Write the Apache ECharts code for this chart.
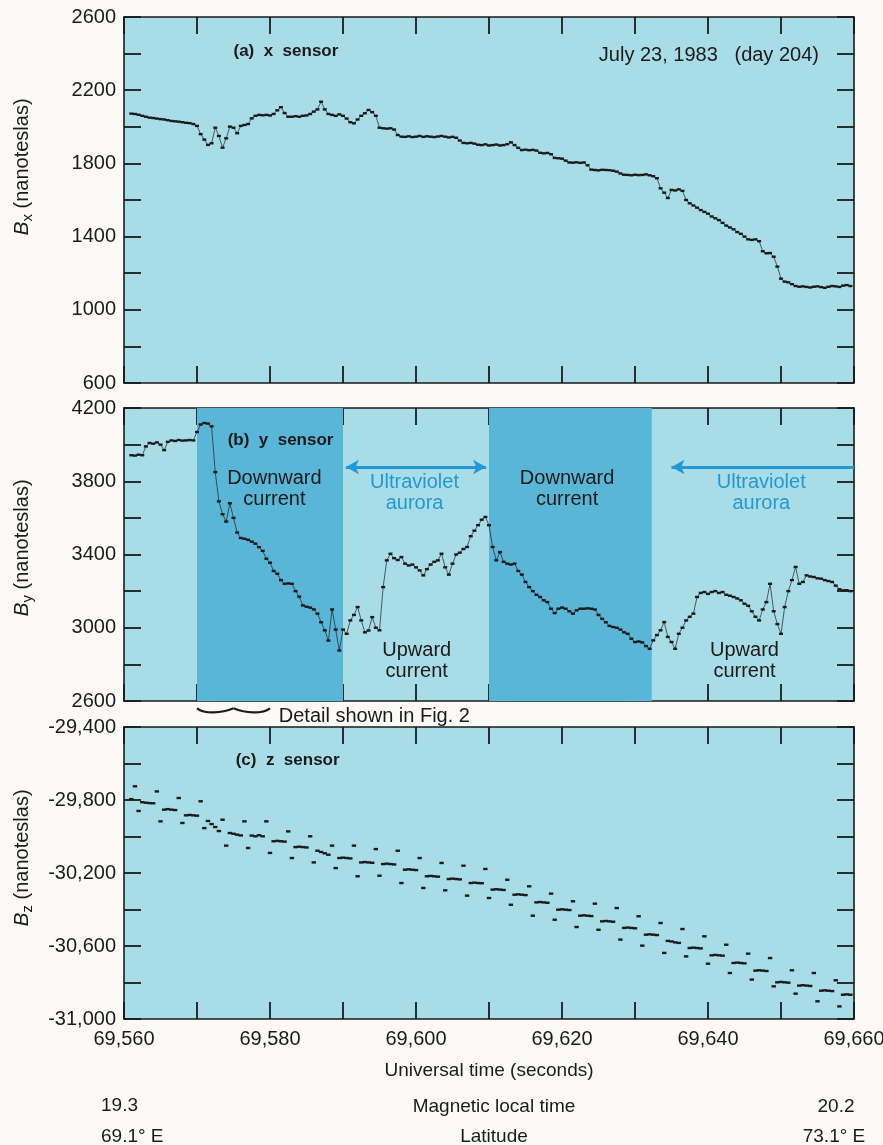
<!DOCTYPE html>
<html>
<head>
<meta charset="utf-8">
<script src="https://cdn.jsdelivr.net/npm/echarts@6/dist/echarts.min.js"></script>
<style>
  html, body { margin: 0; padding: 0; background: #fbfaf7; }
  #chart { width: 883px; height: 1145px; }
</style>
</head>
<body>
<div id="chart"></div>
<script>
// ---------------- data ----------------
// samples every 0.5 s starting at 69,561 s (universal time)
const TIME_START = 69561;
const TIME_STEP = 0.5;
const timeRange = [69560, 69660];

// (a) x sensor, nanoteslas
const bxValues = [
  2072,2070,2066,2060,2055,2050,2048,2045,2042,2040,
  2036,2032,2030,2028,2025,2022,2020,2015,2005,1960,
  1930,1901,1910,1995,1950,1886,1937,2001,1995,1965,
  2005,2010,2015,2046,2060,2065,2063,2065,2062,2070,
  2090,2107,2075,2055,2055,2058,2055,2060,2062,2070,
  2083,2095,2137,2095,2070,2065,2060,2068,2060,2045,
  2025,2019,2040,2060,2074,2092,2080,2060,1995,1992,
  1990,1992,1985,1955,1946,1945,1948,1944,1946,1950,
  1945,1948,1946,1944,1947,1950,1946,1942,1945,1940,
  1925,1912,1910,1912,1908,1902,1900,1904,1898,1900,
  1903,1898,1900,1905,1915,1900,1885,1873,1875,1872,
  1874,1870,1858,1855,1857,1850,1830,1828,1826,1815,
  1805,1804,1806,1803,1805,1790,1766,1764,1762,1765,
  1764,1763,1760,1755,1745,1738,1737,1735,1738,1736,
  1737,1740,1735,1730,1719,1664,1640,1611,1655,1652,
  1658,1650,1600,1582,1570,1558,1545,1535,1525,1510,
  1500,1490,1475,1460,1450,1440,1425,1415,1400,1385,
  1382,1385,1375,1320,1309,1310,1290,1236,1170,1154,
  1150,1140,1130,1126,1128,1125,1122,1126,1128,1124,
  1120,1126,1130,1128,1125,1132,1135,1130
];

// (b) y sensor, nanoteslas
const byValues = [
  3942,3940,3945,3942,3990,4009,4005,4012,4000,3970,
  4015,4023,4020,4025,4022,4023,4025,4023,4069,4110,
  4118,4115,4100,3850,3690,3620,3580,3680,3600,3520,
  3490,3486,3480,3470,3459,3440,3420,3377,3355,3310,
  3295,3260,3240,3242,3240,3200,3170,3122,3115,3110,
  3100,3077,3030,2986,2930,3100,2990,2876,2990,2967,
  3040,3070,3113,3040,2975,2985,3058,3000,2986,3222,
  3368,3404,3380,3370,3386,3350,3340,3345,3330,3313,
  3286,3320,3345,3360,3368,3404,3330,3290,3350,3400,
  3410,3430,3441,3500,3530,3560,3590,3605,3560,3441,
  3368,3413,3360,3350,3345,3350,3310,3290,3250,3222,
  3200,3180,3168,3150,3140,3104,3080,3104,3110,3104,
  3090,3077,3095,3104,3104,3106,3104,3100,3070,3049,
  3030,3010,3004,3000,2990,2975,2967,2940,2922,2925,
  2920,2900,2885,2931,2960,2986,3031,2950,2922,2885,
  2967,3000,3040,3060,3077,3168,3190,3195,3185,3195,
  3200,3190,3195,3180,3175,3168,3160,3150,3131,3120,
  3090,3060,3040,3100,3140,3240,3090,3020,2967,3113,
  3200,3260,3332,3240,3250,3286,3280,3277,3270,3268,
  3260,3255,3250,3230,3210,3204,3205,3200
];

// (c) z sensor, nanoteslas
const bzValues = [
  -29795,-29725,-29860,-29812,-29815,-29817,-29818,-29753,-29917,-29853,
  -29850,-29853,-29855,-29789,-29926,-29884,-29882,-29884,-29886,-29807,
  -29954,-29915,-29932,-29948,-29970,-29908,-30050,-29981,-29985,-29990,
  -29994,-29917,-30063,-29995,-29999,-29993,-29999,-29917,-30090,-30026,
  -30024,-30026,-30028,-29972,-30118,-30058,-30056,-30058,-30060,-29999,
  -30142,-30078,-30085,-30092,-30100,-30050,-30173,-30118,-30116,-30118,
  -30120,-30050,-30218,-30142,-30140,-30142,-30144,-30069,-30215,-30151,
  -30149,-30151,-30153,-30078,-30255,-30182,-30180,-30182,-30184,-30118,
  -30282,-30218,-30216,-30218,-30220,-30145,-30295,-30233,-30231,-30233,
  -30235,-30160,-30324,-30255,-30253,-30255,-30256,-30178,-30337,-30291,
  -30289,-30291,-30293,-30237,-30374,-30319,-30317,-30319,-30321,-30273,
  -30434,-30361,-30359,-30361,-30363,-30313,-30456,-30401,-30399,-30401,
  -30403,-30355,-30496,-30434,-30432,-30434,-30436,-30368,-30511,-30465,
  -30463,-30465,-30467,-30392,-30565,-30501,-30499,-30501,-30503,-30437,
  -30598,-30538,-30536,-30538,-30540,-30474,-30638,-30572,-30575,-30580,
  -30583,-30507,-30657,-30611,-30609,-30611,-30613,-30547,-30697,-30651,
  -30649,-30651,-30653,-30593,-30748,-30693,-30691,-30693,-30695,-30642,
  -30784,-30735,-30733,-30735,-30737,-30666,-30821,-30799,-30797,-30799,
  -30801,-30733,-30861,-30817,-30815,-30817,-30819,-30748,-30903,-30845,
  -30843,-30845,-30847,-30788,-30931,-30867,-30865,-30867
];

// axis ranges (nanoteslas)
const bxRange = [600, 2600];
const byRange = [2600, 4200];
const bzRange = [-31000, -29400];

// current regions in panel (b), seconds
const downwardRegions = [[69570, 69590], [69610, 69632.3]];
// ultraviolet aurora arrows, seconds
const auroraArrows = [[69590.4, 69609.6, 'both'], [69635, 69660, 'left']];
const auroraArrowLevel = 3878;

// bottom annotations
const mltLabels = ['19.3', 'Magnetic local time', '20.2'];
const latLabels = ['69.1\u00b0 E', 'Latitude', '73.1\u00b0 E'];

// ---------------- chart ----------------
const FONT = '"Liberation Sans", Arial, Helvetica, sans-serif';
const INK = '#1b1b1b';
const BLUE = '#2398d6';
const LIGHT = '#a8dce6';
const DARK = '#5ab6d7';

const toPairs = vals => vals.map((v, i) => [TIME_START + i * TIME_STEP, v]);
const fmtNum = v => {
  const a = Math.abs(v);
  const s = a >= 10000 ? a.toString().replace(/\B(?=(\d{3})+(?!\d))/g, ',') : a.toString();
  return (v < 0 ? '-' : '') + s;
};

const grids = [
  { left: 124, right: 29, top: 17, height: 366 },
  { left: 124, right: 29, top: 408, height: 293 },
  { left: 124, right: 29, top: 727, height: 292 }
].map(g => Object.assign(g, {
  show: true, backgroundColor: LIGHT, borderWidth: 0,
  containLabel: false, outerBoundsMode: 'none'
}));

const axisLine = { show: true, onZero: false, lineStyle: { color: INK, width: 1.6 } };
const axisTick = { show: true, inside: true, length: 17, lineStyle: { color: INK, width: 1.8 } };

const xAxes = [];
for (let i = 0; i < 3; i++) {
  xAxes.push({
    type: 'value', gridIndex: i, position: 'bottom',
    min: timeRange[0], max: timeRange[1], interval: 10,
    axisLine, axisTick, splitLine: { show: false },
    axisLabel: i === 2 ? {
      show: true, color: INK, fontFamily: FONT, fontSize: 20, margin: 10,
      formatter: v => (v % 20 === 0 ? fmtNum(v) : '')
    } : { show: false },
    name: i === 2 ? 'Universal time (seconds)' : '',
    nameLocation: 'middle', nameGap: 42,
    nameTextStyle: { color: INK, fontFamily: FONT, fontSize: 19 }
  });
}
for (let i = 0; i < 3; i++) {
  xAxes.push({
    type: 'value', gridIndex: i, position: 'top',
    min: timeRange[0], max: timeRange[1], interval: 10,
    axisLine, axisTick, splitLine: { show: false }, axisLabel: { show: false }
  });
}

const ranges = [bxRange, byRange, bzRange];
const yAxes = [];
for (let i = 0; i < 3; i++) {
  const r = ranges[i];
  yAxes.push({
    type: 'value', gridIndex: i, position: 'left',
    min: r[0], max: r[1], interval: 200,
    axisLine, axisTick, splitLine: { show: false },
    axisLabel: {
      show: true, color: INK, fontFamily: FONT, fontSize: 20, margin: 8,
      formatter: v => ((v - r[0]) % 400 === 0 ? fmtNum(v) : '')
    }
  });
}
for (let i = 0; i < 3; i++) {
  const r = ranges[i];
  yAxes.push({
    type: 'value', gridIndex: i, position: 'right',
    min: r[0], max: r[1], interval: 200,
    axisLine, axisTick, splitLine: { show: false }, axisLabel: { show: false }
  });
}

// measured samples: short dark dashes, thinly joined in panels (a) and (b)
const dotLine = {
  type: 'line', silent: true, animation: false,
  showSymbol: true, symbol: 'rect', symbolSize: [4, 2.4],
  itemStyle: { color: INK, opacity: 1 },
  lineStyle: { color: INK, width: 0.8, opacity: 0.85 },
  emphasis: { disabled: true }
};
const dotOnly = {
  type: 'scatter', silent: true, animation: false,
  symbol: 'rect', symbolSize: [4.4, 2.4],
  itemStyle: { color: INK, opacity: 1 },
  emphasis: { disabled: true }
};

const series = [
  Object.assign({}, dotLine, { name: 'Bx', xAxisIndex: 0, yAxisIndex: 0, data: toPairs(bxValues) }),
  Object.assign({}, dotLine, {
    name: 'By', xAxisIndex: 1, yAxisIndex: 1, data: toPairs(byValues),
    markArea: {
      silent: true,
      itemStyle: { color: DARK, opacity: 1 },
      data: downwardRegions.map(r => [{ xAxis: r[0] }, { xAxis: r[1] }])
    },
    markLine: {
      silent: true, animation: false,
      label: { show: false },
      lineStyle: { color: BLUE, width: 3, type: 'solid' },
      symbolSize: [11, 13],
      data: auroraArrows.map(a => [
        { coord: [a[0], auroraArrowLevel], symbol: 'arrow' },
        { coord: [a[1], auroraArrowLevel], symbol: a[2] === 'both' ? 'arrow' : 'none' }
      ])
    }
  }),
  Object.assign({}, dotOnly, { name: 'Bz', xAxisIndex: 2, yAxisIndex: 2, data: toPairs(bzValues) })
];

const chart = echarts.init(document.getElementById('chart'), null, { renderer: 'canvas' });
chart.setOption({
  animation: false,
  backgroundColor: '#fbfaf7',
  textStyle: { fontFamily: FONT },
  grid: grids,
  xAxis: xAxes,
  yAxis: yAxes,
  series
});

// ---------------- annotations ----------------
const px = (gi, t, v) => chart.convertToPixel({ xAxisIndex: gi, yAxisIndex: gi }, [t, v]);
const txt = (p, text, opts) => ({
  type: 'text', x: p[0], y: p[1], silent: true, z: 50,
  style: Object.assign({
    text, fill: INK, fontFamily: FONT, fontSize: 20,
    textAlign: 'center', textVerticalAlign: 'middle', lineHeight: 21
  }, opts || {})
});
const bold = { fontWeight: 'bold', fontSize: 17, textAlign: 'left' };

const g = [];
g.push(txt(px(0, 69575, 2410), '(a)  x  sensor', bold));
g.push(txt(px(0, 69655.2, 2387), 'July 23, 1983   (day 204)', { textAlign: 'right' }));
g.push(txt(px(1, 69574.2, 4025), '(b)  y  sensor', bold));
g.push(txt(px(2, 69575.3, -29585), '(c)  z  sensor', bold));

g.push(txt(px(1, 69580.6, 3760), 'Downward\ncurrent'));
g.push(txt(px(1, 69620.7, 3760), 'Downward\ncurrent'));
g.push(txt(px(1, 69599.8, 3737), 'Ultraviolet\naurora', { fill: BLUE }));
g.push(txt(px(1, 69647.3, 3737), 'Ultraviolet\naurora', { fill: BLUE }));
g.push(txt(px(1, 69600.1, 2816), 'Upward\ncurrent'));
g.push(txt(px(1, 69645, 2816), 'Upward\ncurrent'));

// brace under the first downward-current region + note
const b0 = px(1, downwardRegions[0][0], 2560);
const b1 = px(1, 69580, 2560);
const bm = (b0[0] + b1[0]) / 2;
const by0 = b0[1];
const braceStyle = { stroke: INK, lineWidth: 2.2, fill: null };
g.push({
  type: 'bezierCurve', silent: true, z: 50,
  shape: { x1: b0[0], y1: by0, cpx1: b0[0] + 8, cpy1: by0 + 6, cpx2: bm - 12, cpy2: by0 + 5, x2: bm, y2: by0 },
  style: braceStyle
});
g.push({
  type: 'bezierCurve', silent: true, z: 50,
  shape: { x1: bm, y1: by0, cpx1: bm + 12, cpy1: by0 + 5, cpx2: b1[0] - 8, cpy2: by0 + 6, x2: b1[0], y2: by0 },
  style: braceStyle
});
g.push(txt(px(1, 69581.2, 2515), 'Detail shown in Fig. 2', { textAlign: 'left' }));

// y-axis titles (rotated)
const yTitle = (x, y, sub) => ({
  type: 'text', x, y, rotation: Math.PI / 2, silent: true, z: 50,
  style: {
    text: `{i|B}{s|${sub}}{n| (nanoteslas)}`,
    fill: INK, fontFamily: FONT, fontSize: 20,
    textAlign: 'center', textVerticalAlign: 'middle',
    rich: {
      i: { fontStyle: 'italic', fontSize: 21, lineHeight: 26, fontFamily: FONT, fill: INK },
      s: { fontSize: 15, lineHeight: 15, verticalAlign: 'bottom', fontFamily: FONT, fill: INK },
      n: { fontSize: 20, lineHeight: 26, fontFamily: FONT, fill: INK }
    }
  }
});
g.push(yTitle(22, 167, 'x'));
g.push(yTitle(22, 548, 'y'));
g.push(yTitle(22, 858, 'z'));

// bottom rows
g.push(txt([101, 1106], mltLabels[0], { textAlign: 'left', fontSize: 19 }));
g.push(txt([494, 1107], mltLabels[1], { fontSize: 19 }));
g.push(txt([836, 1107], mltLabels[2], { fontSize: 19 }));
g.push(txt([101, 1137], latLabels[0], { textAlign: 'left', fontSize: 19 }));
g.push(txt([494, 1137], latLabels[1], { fontSize: 19 }));
g.push(txt([834, 1137], latLabels[2], { fontSize: 19 }));

chart.setOption({ graphic: g });
</script>
</body>
</html>
